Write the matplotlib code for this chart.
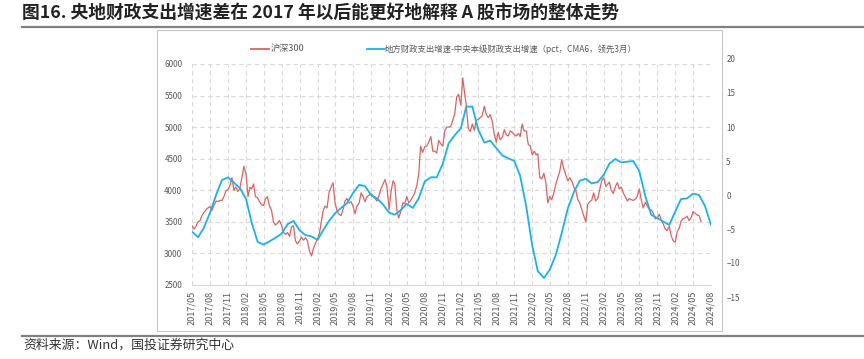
import pandas as pd
import matplotlib
matplotlib.use("Agg")
import matplotlib.pyplot as plt
import matplotlib.dates as mdates
from matplotlib.lines import Line2D
from matplotlib.patches import Rectangle

plt.rcParams['font.family'] = ['Noto Sans CJK SC', 'DejaVu Sans']

title = "图16. 央地财政支出增速差在 2017 年以后能更好地解释 A 股市场的整体走势"
source = "资料来源：Wind，国投证券研究中心"
red_label = "沪深300"
blue_label = "地方财政支出增速-中央本级财政支出增速（pct，CMA6，领先3月）"

# CSI 300, three readings a month (days 1, 11, 21), 2017/05 .. 2024/06
red_months = pd.date_range("2017-05-01", "2024-06-01", freq="MS")
red_days = [1, 11, 21]
red_values = [
    [3440, 3385, 3430], [3500, 3520, 3600], [3650, 3690, 3720], [3740, 3680, 3760],
    [3830, 3820, 3840], [3840, 3900, 3990], [4010, 4080, 4200], [4000, 4050, 3980],
    [4040, 4210, 4380], [4250, 3900, 4050], [4020, 4100, 3900], [3880, 3820, 3770],
    [3760, 3860, 3900], [3750, 3680, 3500], [3450, 3480, 3520], [3450, 3330, 3300],
    [3330, 3270, 3420], [3440, 3200, 3150], [3200, 3260, 3210], [3250, 3200, 3040],
    [2960, 3080, 3160], [3230, 3330, 3520], [3670, 3750, 3720], [3970, 4050, 4120],
    [3800, 3680, 3620], [3600, 3700, 3830], [3870, 3800, 3820], [3750, 3630, 3750],
    [3800, 3960, 3900], [3820, 3900, 3920], [3950, 3900, 3870], [3830, 3910, 4020],
    [4100, 4170, 4060], [3690, 3980, 4150], [4100, 3700, 3560], [3670, 3800, 3790],
    [3900, 3800, 3840], [3900, 3960, 4070], [4250, 4700, 4600], [4690, 4700, 4760],
    [4850, 4620, 4620], [4590, 4790, 4740], [4700, 4940, 5000], [5000, 5010, 5100],
    [5210, 5480, 5520], [5350, 5780, 5520], [5340, 4980, 4930], [5050, 4950, 5110],
    [5120, 5150, 5180], [5330, 5200, 5150], [5200, 5100, 4900], [4760, 4920, 4800],
    [4840, 4960, 4880], [4860, 4940, 4920], [4880, 4860, 4900], [4850, 5050, 4940],
    [4940, 4730, 4700], [4560, 4620, 4560], [4580, 4200, 4180], [4270, 4120, 3800],
    [3900, 3850, 3950], [4100, 4200, 4300], [4480, 4350, 4250], [4150, 4200, 4150],
    [4050, 4000, 3850], [3800, 3700, 3600], [3500, 3780, 3820], [3840, 3960, 3830],
    [3870, 4010, 4150], [4200, 4060, 4100], [4130, 4000, 3950], [4060, 4120, 4020],
    [4050, 3960, 3900], [3830, 3870, 3850], [3840, 3860, 3900], [4020, 3850, 3720],
    [3810, 3750, 3700], [3690, 3640, 3550], [3560, 3620, 3530], [3470, 3390, 3360],
    [3430, 3280, 3200], [3180, 3350, 3400], [3510, 3550, 3560], [3590, 3520, 3560],
    [3660, 3640, 3610], [3600, 3510],
]

# local minus central fiscal spending growth, monthly 2017/05 .. 2024/08
blue_months = pd.date_range("2017-05-01", "2024-08-01", freq="MS")
blue_values = [
    -5.4, -6.2, -4.8, -2.6, 0.0, 2.2, 2.6, 1.8, 1.0, -0.6, -4.0, -6.9,
    -7.3, -6.8, -6.3, -5.7, -4.3, -3.8, -5.2, -5.9, -6.1, -6.6, -5.2, -3.8,
    -2.7, -1.9, -1.2, 0.3, 1.5, 1.3, 0.0, -0.5, -1.4, -2.6, -2.9, -2.2,
    -1.3, -1.9, -0.5, 2.0, 2.6, 2.6, 4.6, 7.6, 8.8, 9.8, 13.0, 13.0,
    9.6, 7.7, 8.0, 6.9, 5.8, 5.4, 5.0, 2.8, -1.7, -7.5, -11.2, -12.2,
    -11.0, -8.8, -5.6, -2.0, 0.4, 2.1, 2.4, 1.7, 1.9, 3.0, 4.6, 5.3,
    4.8, 4.9, 5.0, 3.5, -0.2, -2.9, -3.4, -3.9, -4.4, -2.4, -0.6, -0.5,
    0.2, 0.0, -1.6, -4.4,
]

red_dates = []
red_flat = []
for m, row in zip(red_months, red_values):
    for d, v in zip(red_days, row):
        red_dates.append(m.replace(day=d))
        red_flat.append(v)

W, H = 864, 359
fig = plt.figure(figsize=(W / 100, H / 100), dpi=100)

def fx(px):
    return px / W

def fy(py):
    return 1 - py / H

red_c = "#d96464"
blue_c = "#1cb1ea"
grid_c = "#d9d9d9"
tick_c = "#595959"

# left axis (CSI 300)
ax = fig.add_axes([fx(192), fy(285), fx(711) - fx(192), fy(64) - fy(285)])
ax.plot(red_dates, red_flat, color=red_c, lw=0.9, zorder=3)
ax.set_ylim(2500, 6000)
ax.set_yticks(range(2500, 6001, 500))
ax.set_xlim(blue_months[0], blue_months[-1])
ax.xaxis.set_major_locator(mdates.MonthLocator(bymonth=[2, 5, 8, 11]))
ax.xaxis.set_major_formatter(mdates.DateFormatter("%Y/%m"))
ax.grid(True, color=grid_c, ls=(0, (4, 3)), lw=0.8)
for s in ["top", "right", "left"]:
    ax.spines[s].set_visible(False)
ax.spines["bottom"].set_color(grid_c)
ax.tick_params(axis="y", length=0, pad=7, labelsize=5.8, labelcolor=tick_c)
ax.tick_params(axis="x", length=0, pad=4, labelsize=6.6, labelcolor=tick_c,
               labelrotation=90)
ax.set_facecolor("none")

# right axis (spending gap), own extent like the original
ax2 = fig.add_axes([fx(192), fy(297), fx(711) - fx(192), fy(59) - fy(297)])
ax2.plot(blue_months, blue_values, color=blue_c, lw=1.3, zorder=4,
         solid_joinstyle="round")
ax2.set_xlim(blue_months[0], blue_months[-1])
ax2.set_ylim(-15, 20)
ax2.set_yticks(range(-15, 21, 5))
ax2.yaxis.tick_right()
ax2.tick_params(axis="y", length=0, pad=11, labelsize=5.8, labelcolor=tick_c)
ax2.set_xticks([])
for s in ax2.spines.values():
    s.set_visible(False)
ax2.patch.set_alpha(0)

# inner chart frame
fig.patches.append(Rectangle((fx(157), fy(331)), fx(722) - fx(157), fy(30) - fy(331),
                             transform=fig.transFigure, fill=False,
                             edgecolor="#c8c8c8", lw=0.8))

# legend
fig.lines.append(Line2D([fx(251), fx(269)], [fy(49), fy(49)], color=red_c, lw=1.3,
                        transform=fig.transFigure))
fig.text(fx(271), fy(49), red_label, fontsize=6.6, color=tick_c, va="center")
fig.lines.append(Line2D([fx(367), fx(385)], [fy(49), fy(49)], color=blue_c, lw=1.3,
                        transform=fig.transFigure))
fig.text(fx(385), fy(49), blue_label, fontsize=6.05, color=tick_c, va="center")

# title, rules and source
fig.text(fx(22), fy(13), title, fontsize=12.8, fontweight="bold", color="#222222",
         va="center")
fig.lines.append(Line2D([fx(22), 1], [fy(27), fy(27)], color="#808080", lw=1.6,
                        transform=fig.transFigure))
fig.lines.append(Line2D([fx(22), 1], [fy(336), fy(336)], color="#808080", lw=1.6,
                        transform=fig.transFigure))
fig.text(fx(23), fy(345), source, fontsize=9.3, color="#333333", va="center",
         style="italic")

fig.savefig("out.png", dpi=100)
